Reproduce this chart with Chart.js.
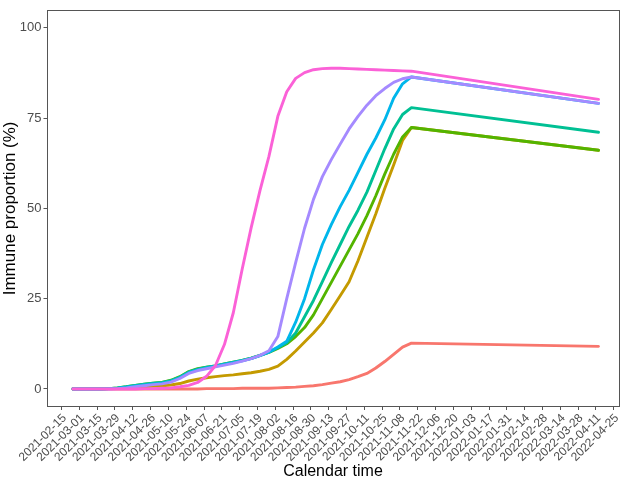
<!DOCTYPE html>
<html><head><meta charset="utf-8">
<script src="https://cdn.jsdelivr.net/npm/chart.js@4.4.0/dist/chart.umd.min.js"></script>
<style>html,body{margin:0;padding:0;background:#fff}canvas{display:block}</style>
</head><body>
<canvas id="c" width="625" height="484"></canvas>
<script>
const originDate = "2021-02-15";
const tickLabels = ["2021-02-15","2021-03-01","2021-03-15","2021-03-29","2021-04-12","2021-04-26","2021-05-10","2021-05-24","2021-06-07","2021-06-21","2021-07-05","2021-07-19","2021-08-02","2021-08-16","2021-08-30","2021-09-13","2021-09-27","2021-10-11","2021-10-25","2021-11-08","2021-11-22","2021-12-06","2021-12-20","2022-01-03","2022-01-17","2022-01-31","2022-02-14","2022-02-28","2022-03-14","2022-03-28","2022-04-11","2022-04-25"];
const yTicks = [0,25,50,75,100];
const dates = ["2021-02-24","2021-03-03","2021-03-10","2021-03-17","2021-03-24","2021-03-31","2021-04-07","2021-04-14","2021-04-21","2021-04-28","2021-05-05","2021-05-12","2021-05-19","2021-05-26","2021-06-02","2021-06-09","2021-06-16","2021-06-23","2021-06-30","2021-07-07","2021-07-14","2021-07-21","2021-07-28","2021-08-04","2021-08-11","2021-08-18","2021-08-25","2021-09-01","2021-09-08","2021-09-15","2021-09-22","2021-09-29","2021-10-06","2021-10-13","2021-10-20","2021-10-27","2021-11-03","2021-11-10","2021-11-17","2022-04-13"];
const groupNames = ["Group 1","Group 2","Group 3","Group 4","Group 5","Group 6","Group 7"];
const groupColors = ["#F8766D","#C49A00","#53B400","#00C094","#00B6EB","#A58AFF","#FB61D7"];
const group1 = [0,0,0,0,0,0,0,0,0,0,0,0,0,0,0,0.1,0.1,0.1,0.1,0.2,0.2,0.2,0.2,0.3,0.4,0.5,0.7,0.9,1.2,1.6,2.0,2.6,3.4,4.3,5.8,7.6,9.6,11.6,12.7,11.8];
const group2 = [0,0,0,0,0.1,0.1,0.2,0.4,0.6,0.8,0.9,1.1,1.5,2.2,2.7,3.1,3.4,3.7,3.9,4.2,4.5,4.9,5.4,6.3,8.2,10.5,13.0,15.5,18.3,22.0,25.8,29.7,35.5,42.0,48.5,55.5,62.0,68.8,72.4,66.1];
const group3 = [0,0,0,0,0.1,0.3,0.6,1.0,1.3,1.6,1.8,2.4,3.4,4.8,5.6,6.0,6.4,6.9,7.4,7.9,8.5,9.3,10.1,11.2,12.5,14.5,17.0,20.5,25.0,29.5,34.0,38.5,43.0,48.0,53.5,59.5,65.0,69.8,72.4,66.1];
const group4 = [0,0,0,0,0.1,0.3,0.6,1.0,1.3,1.6,1.8,2.3,3.3,4.7,5.5,6.0,6.4,6.9,7.4,7.9,8.5,9.3,10.2,11.4,12.8,15.5,20.0,24.5,29.7,35.0,40.0,45.0,49.5,54.5,60.5,66.5,72.0,76.0,77.9,71.1];
const group5 = [0,0,0,0,0.1,0.2,0.5,0.8,1.1,1.4,1.6,2.1,3.1,4.5,5.3,5.8,6.3,6.8,7.3,7.8,8.4,9.2,10.2,11.6,13.2,18.5,25.0,33.0,40.0,45.5,50.5,55.0,60.0,65.0,69.5,74.5,80.5,84.5,86.4,79.1];
const group6 = [0,0,0,0,0,0.1,0.3,0.6,0.9,1.2,1.4,1.9,2.9,4.3,5.1,5.6,6.1,6.6,7.1,7.7,8.4,9.3,10.6,14.5,25.0,35.0,44.5,52.5,58.8,63.5,67.8,72.0,75.5,78.6,81.2,83.2,84.9,85.9,86.4,79.1];
const group7 = [0,0,0,0,0,0,0,0,0.1,0.1,0.2,0.3,0.6,1.0,1.8,3.5,6.5,12.3,21.1,33.2,44.6,55.0,64.4,75.5,82.3,86.0,87.6,88.4,88.7,88.8,88.8,88.7,88.6,88.5,88.4,88.3,88.2,88.1,88.0,80.2];

const toDay = s => (Date.parse(s) - Date.parse(originDate)) / 86400000;
const xDays = dates.map(toDay);
const allSeries = [group1, group2, group3, group4, group5, group6, group7];

const datasets = allSeries.map((vals, i) => ({
  label: groupNames[i],
  data: vals.map((v, j) => ({x: xDays[j], y: v})),
  borderColor: groupColors[i],
  backgroundColor: groupColors[i],
  borderWidth: 2.9,
  pointRadius: 0,
  tension: 0,
  fill: false,
  borderJoinStyle: 'round',
  borderCapStyle: 'round',
  order: allSeries.length - i
}));

const border = {
  id: 'panelBorder',
  afterDatasetsDraw(chart) {
    const a = chart.chartArea, ctx = chart.ctx;
    ctx.save();
    ctx.strokeStyle = '#555555';
    ctx.lineWidth = 1;
    ctx.strokeRect(Math.round(a.left) + 0.5, Math.round(a.top) + 0.5, Math.round(a.right - a.left) - 1, Math.round(a.bottom - a.top) - 1);
    ctx.restore();
  }
};

new Chart(document.getElementById('c'), {
  type: 'line',
  data: { datasets },
  plugins: [border],
  options: {
    responsive: false,
    animation: false,
    devicePixelRatio: 1,
    layout: { padding: { left: 0, right: 4, top: 4, bottom: 0 } },
    plugins: { legend: { display: false }, tooltip: { enabled: false } },
    scales: {
      x: {
        type: 'linear',
        min: -11.8,
        max: 438.5,
        afterBuildTicks: s => { s.ticks = tickLabels.map(t => ({ value: toDay(t) })); },
        afterFit: s => { s.height = 77; },
        grid: { drawOnChartArea: false, drawTicks: true, tickLength: 3, color: '#555555' },
        border: { display: false },
        ticks: {
          autoSkip: false, maxRotation: 45, minRotation: 45, padding: 1, labelOffset: 3,
          color: '#4d4d4d', font: { family: 'Liberation Sans', size: 12 },
          callback: (v, i) => tickLabels[i]
        },
        title: { display: true, text: 'Calendar time', color: '#000', font: { family: 'Liberation Sans', size: 16 }, padding: { top: 0, bottom: 3 } }
      },
      y: {
        min: -5,
        max: 105,
        afterBuildTicks: s => { s.ticks = yTicks.map(v => ({ value: v })); },
        afterFit: s => { s.width = 46.5; },
        grid: { drawOnChartArea: false, drawTicks: true, tickLength: 3, color: '#555555' },
        border: { display: false },
        ticks: { padding: 2, color: '#4d4d4d', font: { family: 'Liberation Sans', size: 13 } },
        title: { display: true, text: 'Immune proportion (%)', color: '#000', font: { family: 'Liberation Sans', size: 17 }, padding: { top: 0.5, bottom: 0 } }
      }
    }
  }
});
</script>
</body></html>
